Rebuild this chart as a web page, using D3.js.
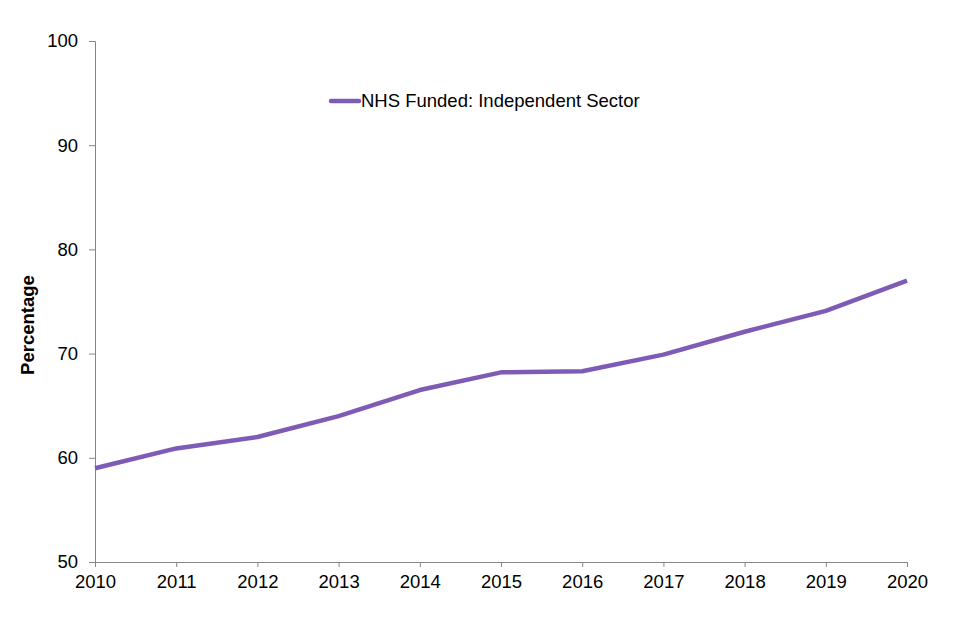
<!DOCTYPE html>
<html><head><meta charset="utf-8">
<script src="https://cdn.jsdelivr.net/npm/d3@7"></script>
<style>body{margin:0;background:#fff;} text{font-family:"Liberation Sans",Arial,sans-serif;}</style>
</head><body>
<svg id="c" width="960" height="640"></svg>
<script>
const years = [2010,2011,2012,2013,2014,2015,2016,2017,2018,2019,2020];
const values = [59.0,60.9,62.0,64.0,66.5,68.2,68.3,69.9,72.1,74.1,77.0];
const yTicks = [50,60,70,80,90,100];
const seriesName = "NHS Funded: Independent Sector";
const yTitle = "Percentage";

const svg = d3.select("#c");
const m = {l:95, r:53, t:41, b:78};
const W = 960, H = 640;
const x = d3.scaleLinear().domain([2010,2020]).range([m.l, W-m.r]);
const y = d3.scaleLinear().domain([50,100]).range([H-m.b, m.t]);
const axisColor = "#868686";
const fs = "18.5px";

const xa = svg.append("g").attr("transform",`translate(0,${H-m.b})`)
  .call(d3.axisBottom(x).tickValues(years).tickFormat(d3.format("d")).tickSizeOuter(0).tickSize(5).tickPadding(8));
const ya = svg.append("g").attr("transform",`translate(${m.l},0)`)
  .call(d3.axisLeft(y).tickValues(yTicks).tickSizeOuter(0).tickSize(6).tickPadding(11));
[xa,ya].forEach(a=>{
  a.selectAll("path,line").attr("stroke",axisColor);
  a.selectAll("text").attr("fill","#000").style("font-size",fs).style("font-family","'Liberation Sans',Arial,sans-serif");
});
xa.selectAll("text").attr("dy","0.71em");

svg.append("text").attr("transform",`translate(34,325) rotate(-90)`)
  .attr("text-anchor","middle").style("font-size","18.5px").style("font-weight","bold").text(yTitle);

const line = d3.line().x((d,i)=>x(years[i])).y(d=>y(d));
svg.append("path").datum(values).attr("d",line).attr("fill","none")
  .attr("stroke","#7E5CB5").attr("stroke-width",4.5).attr("stroke-linejoin","round");

const lg = svg.append("g").attr("transform","translate(331,101)");
lg.append("line").attr("x1",0).attr("x2",28).attr("stroke","#7E5CB5").attr("stroke-width",4.5).attr("stroke-linecap","round");
lg.append("text").attr("x",30).attr("dy","0.35em").style("font-size",fs).text(seriesName);
</script>
</body></html>
